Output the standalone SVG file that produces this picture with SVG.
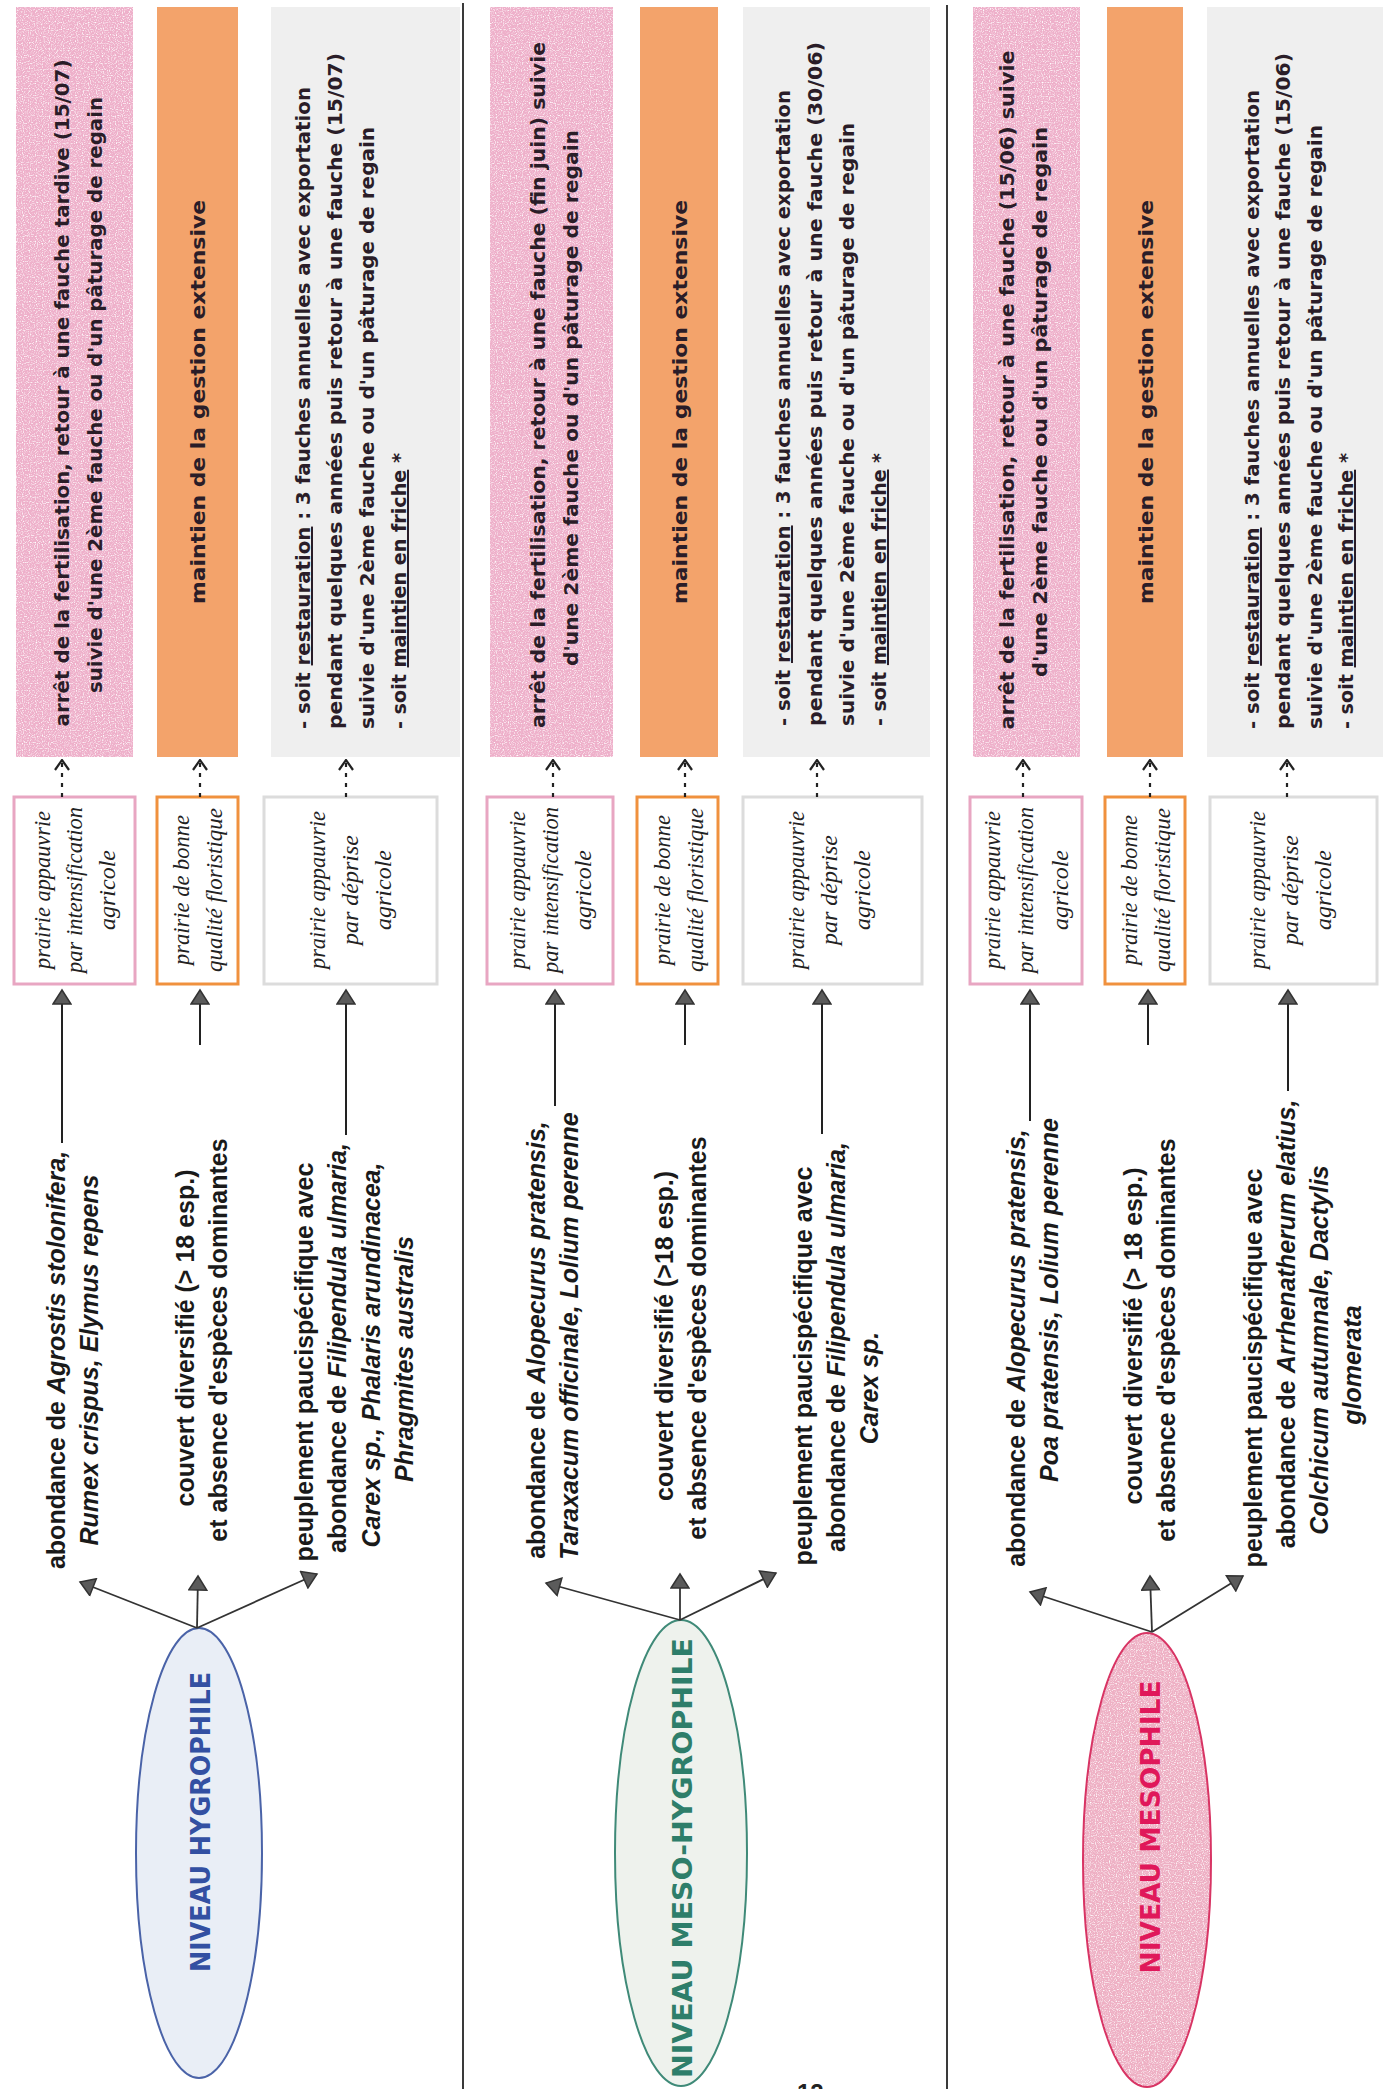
<svg xmlns="http://www.w3.org/2000/svg" width="1383" height="2089" viewBox="0 0 1383 2089">
<style>
.crit{font-family:"Liberation Sans",Arial,sans-serif;font-weight:bold;font-size:25px;fill:#1a1a1a;text-anchor:middle}
.i{font-style:italic}
.u{text-decoration:underline}
.state{font-family:"Liberation Serif","Times New Roman",serif;font-style:italic;font-size:24px;fill:#222;text-anchor:middle}
.act{font-family:"DejaVu Sans Condensed","Liberation Sans Narrow","Liberation Sans",sans-serif;font-weight:bold;font-size:20px;fill:#2a1d28}
.mid{text-anchor:middle}
.lvl{font-family:"DejaVu Sans Condensed","Liberation Sans Narrow","Liberation Sans",sans-serif;font-weight:bold;font-size:26px;text-anchor:middle}
.pinkR{fill:#eeb0ca}
.orR{fill:#f3a36b}
.greyR{fill:#efefef}
.speck{fill:#fff;filter:url(#speck)}
.pinkB{fill:#fff;stroke:#e8a6c2;stroke-width:3}
.orB{fill:#fff;stroke:#f0913e;stroke-width:3}
.greyB{fill:#fff;stroke:#dcdcdc;stroke-width:3}
.sep{stroke:#3a3a3a;stroke-width:2}
.solid{stroke:#222;stroke-width:2;fill:none;marker-end:url(#tri)}
.dash{stroke:#222;stroke-width:2.2;fill:none;stroke-dasharray:4 6;marker-end:url(#chev)}
.thin{stroke:#333;stroke-width:1.8;fill:none;marker-end:url(#tri)}
</style>
<defs>
<filter id="speck" x="0" y="0" width="100%" height="100%">
<feTurbulence type="fractalNoise" baseFrequency="0.85" numOctaves="1" seed="7" result="n"/>
<feColorMatrix in="n" type="matrix" values="0 0 0 0 1  0 0 0 0 1  0 0 0 0 1  0 0 0 -3 1.55" result="a"/>
<feComposite in="a" in2="SourceGraphic" operator="in"/>
</filter>
<marker id="tri" viewBox="0 0 20 20" refX="17" refY="10" markerWidth="20" markerHeight="20" markerUnits="userSpaceOnUse" orient="auto">
<path d="M3,1 L17,10 L3,19 Z" fill="#5b5b5b" stroke="#333" stroke-width="1.5"/>
</marker>
<marker id="chev" viewBox="0 0 12 18" refX="11" refY="9" markerWidth="12" markerHeight="18" markerUnits="userSpaceOnUse" orient="auto">
<path d="M1,2 L11,9 L1,16" fill="none" stroke="#222" stroke-width="2.2"/>
</marker>
</defs>
<rect width="1383" height="2089" fill="#fff"/>

<g id="separators">
<line class="sep" x1="463" y1="3" x2="463" y2="2089"/>
<line class="sep" x1="947" y1="5" x2="947" y2="2089"/>
</g>

<!-- ============ PANEL 1 : HYGROPHILE ============ -->
<g id="p1-action-fertilisation">
<rect class="pinkR" x="16" y="7" width="117" height="750"/>
<rect class="speck" x="16" y="7" width="117" height="750"/>
<text class="act mid" transform="translate(69,393) rotate(-90)" textLength="667" lengthAdjust="spacingAndGlyphs">arrêt de la fertilisation, retour à une fauche tardive (15/07)</text>
<text class="act mid" transform="translate(102,395) rotate(-90)" textLength="596" lengthAdjust="spacingAndGlyphs">suivie d'une 2ème fauche ou d'un pâturage de regain</text>
</g>
<g id="p1-action-maintien">
<rect class="orR" x="157" y="7" width="81" height="750"/>
<text class="act mid" transform="translate(205,402) rotate(-90)" textLength="404" lengthAdjust="spacingAndGlyphs">maintien de la gestion extensive</text>
</g>
<g id="p1-action-restauration">
<rect class="greyR" x="271" y="7" width="189" height="750"/>
<text class="act" transform="translate(310,729) rotate(-90)" textLength="642" lengthAdjust="spacingAndGlyphs">- soit <tspan class="u">restauration</tspan> : 3 fauches annuelles avec exportation</text>
<text class="act" transform="translate(342,729) rotate(-90)" textLength="676" lengthAdjust="spacingAndGlyphs">pendant quelques années puis retour à  une fauche (15/07)</text>
<text class="act" transform="translate(374,729) rotate(-90)" textLength="602" lengthAdjust="spacingAndGlyphs">suivie d'une 2ème fauche ou d'un pâturage de regain</text>
<text class="act" transform="translate(406,729) rotate(-90)" textLength="276" lengthAdjust="spacingAndGlyphs">- soit <tspan class="u">maintien en friche</tspan> *</text>
</g>
<g id="p1-state-intensification">
<rect class="pinkB" x="14" y="797" width="121" height="187"/>
<text class="state" transform="translate(50,890) rotate(-90)" textLength="158" lengthAdjust="spacingAndGlyphs">prairie appauvrie</text>
<text class="state" transform="translate(82,890) rotate(-90)" textLength="166" lengthAdjust="spacingAndGlyphs">par intensification</text>
<text class="state" transform="translate(115,890) rotate(-90)">agricole</text>
</g>
<g id="p1-state-bonne">
<rect class="orB" x="157" y="797" width="81" height="187"/>
<text class="state" transform="translate(189,890) rotate(-90)" textLength="150" lengthAdjust="spacingAndGlyphs">prairie de bonne</text>
<text class="state" transform="translate(222,890) rotate(-90)" textLength="164" lengthAdjust="spacingAndGlyphs">qualité floristique</text>
</g>
<g id="p1-state-deprise">
<rect class="greyB" x="264" y="797" width="173" height="187"/>
<text class="state" transform="translate(325,890) rotate(-90)" textLength="158" lengthAdjust="spacingAndGlyphs">prairie appauvrie</text>
<text class="state" transform="translate(358,890) rotate(-90)">par déprise</text>
<text class="state" transform="translate(391,890) rotate(-90)">agricole</text>
</g>
<g id="p1-crit-1">
<text class="crit" transform="translate(65,1360) rotate(-90)">abondance de <tspan class="i">Agrostis stolonifera,</tspan></text>
<text class="crit" transform="translate(98,1360) rotate(-90)"><tspan class="i">Rumex crispus, Elymus repens</tspan></text>
</g>
<g id="p1-crit-2">
<text class="crit" transform="translate(194,1338) rotate(-90)">couvert diversifié (&gt; 18 esp.)</text>
<text class="crit" transform="translate(227,1340) rotate(-90)">et absence d'espèces dominantes</text>
</g>
<g id="p1-crit-3">
<text class="crit" transform="translate(313,1362) rotate(-90)">peuplement paucispécifique avec</text>
<text class="crit" transform="translate(346,1348) rotate(-90)">abondance de <tspan class="i">Filipendula ulmaria,</tspan></text>
<text class="crit" transform="translate(380,1355) rotate(-90)"><tspan class="i">Carex sp., Phalaris arundinacea,</tspan></text>
<text class="crit" transform="translate(413,1359) rotate(-90)"><tspan class="i">Phragmites australis</tspan></text>
</g>
<g id="p1-level">
<ellipse cx="199" cy="1853" rx="63" ry="225" fill="#e9eef6" stroke="#4a63a8" stroke-width="2"/>
<text class="lvl" fill="#3350a2" transform="translate(210,1822) rotate(-90)" textLength="300" lengthAdjust="spacingAndGlyphs">NIVEAU HYGROPHILE</text>
</g>

<!-- ============ PANEL 2 : MESO-HYGROPHILE ============ -->
<g id="p2-action-fertilisation">
<rect class="pinkR" x="490" y="7" width="123" height="750"/>
<rect class="speck" x="490" y="7" width="123" height="750"/>
<text class="act mid" transform="translate(545,385) rotate(-90)" textLength="686" lengthAdjust="spacingAndGlyphs">arrêt de la fertilisation, retour à une fauche (fin juin) suivie</text>
<text class="act mid" transform="translate(578,398) rotate(-90)" textLength="536" lengthAdjust="spacingAndGlyphs">d'une 2ème fauche ou d'un pâturage de regain</text>
</g>
<g id="p2-action-maintien">
<rect class="orR" x="640" y="7" width="78" height="750"/>
<text class="act mid" transform="translate(687,402) rotate(-90)" textLength="404" lengthAdjust="spacingAndGlyphs">maintien de la gestion extensive</text>
</g>
<g id="p2-action-restauration">
<rect class="greyR" x="743" y="7" width="187" height="750"/>
<text class="act" transform="translate(790,726) rotate(-90)" textLength="636" lengthAdjust="spacingAndGlyphs">- soit <tspan class="u">restauration</tspan> : 3 fauches annuelles avec exportation</text>
<text class="act" transform="translate(822,726) rotate(-90)" textLength="684" lengthAdjust="spacingAndGlyphs">pendant quelques années puis retour à une fauche (30/06)</text>
<text class="act" transform="translate(854,726) rotate(-90)" textLength="603" lengthAdjust="spacingAndGlyphs">suivie d'une 2ème fauche ou d'un pâturage de regain</text>
<text class="act" transform="translate(886,726) rotate(-90)" textLength="273" lengthAdjust="spacingAndGlyphs">- soit <tspan class="u">maintien en friche</tspan> *</text>
</g>
<g id="p2-state-intensification">
<rect class="pinkB" x="487" y="797" width="126" height="187"/>
<text class="state" transform="translate(525,890) rotate(-90)" textLength="158" lengthAdjust="spacingAndGlyphs">prairie appauvrie</text>
<text class="state" transform="translate(558,890) rotate(-90)" textLength="166" lengthAdjust="spacingAndGlyphs">par intensification</text>
<text class="state" transform="translate(591,890) rotate(-90)">agricole</text>
</g>
<g id="p2-state-bonne">
<rect class="orB" x="637" y="797" width="81" height="187"/>
<text class="state" transform="translate(670,890) rotate(-90)" textLength="150" lengthAdjust="spacingAndGlyphs">prairie de bonne</text>
<text class="state" transform="translate(703,890) rotate(-90)" textLength="164" lengthAdjust="spacingAndGlyphs">qualité floristique</text>
</g>
<g id="p2-state-deprise">
<rect class="greyB" x="743" y="797" width="179" height="187"/>
<text class="state" transform="translate(804,890) rotate(-90)" textLength="158" lengthAdjust="spacingAndGlyphs">prairie appauvrie</text>
<text class="state" transform="translate(837,890) rotate(-90)">par déprise</text>
<text class="state" transform="translate(870,890) rotate(-90)">agricole</text>
</g>
<g id="p2-crit-1">
<text class="crit" transform="translate(545,1340) rotate(-90)">abondance de <tspan class="i">Alopecurus pratensis,</tspan></text>
<text class="crit" transform="translate(578,1336) rotate(-90)"><tspan class="i">Taraxacum officinale, Lolium perenne</tspan></text>
</g>
<g id="p2-crit-2">
<text class="crit" transform="translate(673,1336) rotate(-90)">couvert diversifié (&gt;18 esp.)</text>
<text class="crit" transform="translate(706,1338) rotate(-90)">et absence d'espèces dominantes</text>
</g>
<g id="p2-crit-3">
<text class="crit" transform="translate(812,1366) rotate(-90)">peuplement paucispécifique avec</text>
<text class="crit" transform="translate(845,1347) rotate(-90)">abondance de <tspan class="i">Filipendula ulmaria,</tspan></text>
<text class="crit" transform="translate(878,1388) rotate(-90)"><tspan class="i">Carex sp.</tspan></text>
</g>
<g id="p2-level">
<ellipse cx="681" cy="1853" rx="66" ry="233" fill="#eef2ed" stroke="#3f8a78" stroke-width="2"/>
<text class="lvl" fill="#2e7e6a" transform="translate(692,1858) rotate(-90)" textLength="440" lengthAdjust="spacingAndGlyphs">NIVEAU MESO-HYGROPHILE</text>
</g>

<!-- ============ PANEL 3 : MESOPHILE ============ -->
<g id="p3-action-fertilisation">
<rect class="pinkR" x="973" y="7" width="107" height="750"/>
<rect class="speck" x="973" y="7" width="107" height="750"/>
<text class="act mid" transform="translate(1014,390) rotate(-90)" textLength="679" lengthAdjust="spacingAndGlyphs">arrêt de la fertilisation, retour à une fauche (15/06) suivie</text>
<text class="act mid" transform="translate(1047,402) rotate(-90)" textLength="550" lengthAdjust="spacingAndGlyphs">d'une 2ème fauche ou d'un pâturage de regain</text>
</g>
<g id="p3-action-maintien">
<rect class="orR" x="1107" y="7" width="76" height="750"/>
<text class="act mid" transform="translate(1153,402) rotate(-90)" textLength="404" lengthAdjust="spacingAndGlyphs">maintien de la gestion extensive</text>
</g>
<g id="p3-action-restauration">
<rect class="greyR" x="1207" y="7" width="176" height="750"/>
<text class="act" transform="translate(1259,729) rotate(-90)" textLength="639" lengthAdjust="spacingAndGlyphs">- soit <tspan class="u">restauration</tspan> : 3 fauches annuelles avec exportation</text>
<text class="act" transform="translate(1290,729) rotate(-90)" textLength="676" lengthAdjust="spacingAndGlyphs">pendant quelques années puis retour à une fauche  (15/06)</text>
<text class="act" transform="translate(1322,729) rotate(-90)" textLength="604" lengthAdjust="spacingAndGlyphs">suivie d'une 2ème fauche ou d'un pâturage de regain</text>
<text class="act" transform="translate(1353,729) rotate(-90)" textLength="276" lengthAdjust="spacingAndGlyphs">- soit <tspan class="u">maintien en friche</tspan> *</text>
</g>
<g id="p3-state-intensification">
<rect class="pinkB" x="970" y="797" width="112" height="187"/>
<text class="state" transform="translate(1000,890) rotate(-90)" textLength="158" lengthAdjust="spacingAndGlyphs">prairie appauvrie</text>
<text class="state" transform="translate(1033,890) rotate(-90)" textLength="166" lengthAdjust="spacingAndGlyphs">par intensification</text>
<text class="state" transform="translate(1068,890) rotate(-90)">agricole</text>
</g>
<g id="p3-state-bonne">
<rect class="orB" x="1105" y="797" width="80" height="187"/>
<text class="state" transform="translate(1137,890) rotate(-90)" textLength="150" lengthAdjust="spacingAndGlyphs">prairie de bonne</text>
<text class="state" transform="translate(1170,890) rotate(-90)" textLength="164" lengthAdjust="spacingAndGlyphs">qualité floristique</text>
</g>
<g id="p3-state-deprise">
<rect class="greyB" x="1210" y="797" width="167" height="187"/>
<text class="state" transform="translate(1265,890) rotate(-90)" textLength="158" lengthAdjust="spacingAndGlyphs">prairie appauvrie</text>
<text class="state" transform="translate(1298,890) rotate(-90)">par déprise</text>
<text class="state" transform="translate(1331,890) rotate(-90)">agricole</text>
</g>
<g id="p3-crit-1">
<text class="crit" transform="translate(1025,1348) rotate(-90)">abondance de <tspan class="i">Alopecurus pratensis,</tspan></text>
<text class="crit" transform="translate(1058,1300) rotate(-90)"><tspan class="i">Poa pratensis, Lolium perenne</tspan></text>
</g>
<g id="p3-crit-2">
<text class="crit" transform="translate(1142,1336) rotate(-90)">couvert diversifié (&gt; 18 esp.)</text>
<text class="crit" transform="translate(1175,1340) rotate(-90)">et absence d'espèces dominantes</text>
</g>
<g id="p3-crit-3">
<text class="crit" transform="translate(1262,1368) rotate(-90)">peuplement paucispécifique avec</text>
<text class="crit" transform="translate(1295,1324) rotate(-90)">abondance de <tspan class="i">Arrhenatherum elatius,</tspan></text>
<text class="crit" transform="translate(1328,1350) rotate(-90)"><tspan class="i">Colchicum autumnale, Dactylis</tspan></text>
<text class="crit" transform="translate(1361,1365) rotate(-90)"><tspan class="i">glomerata</tspan></text>
</g>
<g id="p3-level">
<ellipse cx="1147" cy="1860" rx="64" ry="227" fill="#eeb0c4" stroke="#d83464" stroke-width="2"/>
<ellipse class="speck" cx="1147" cy="1860" rx="63" ry="226"/>
<text class="lvl" fill="#e0185a" transform="translate(1160,1827) rotate(-90)" textLength="293" lengthAdjust="spacingAndGlyphs">NIVEAU MESOPHILE</text>
</g>

<g id="connectors">
<!-- panel 1 -->
<line class="thin" x1="197" y1="1628" x2="80" y2="1582"/>
<line class="thin" x1="197" y1="1628" x2="198" y2="1576"/>
<line class="thin" x1="197" y1="1628" x2="317" y2="1574"/>
<line class="solid" x1="62" y1="1143" x2="62" y2="990"/>
<line class="solid" x1="200" y1="1045" x2="200" y2="990"/>
<line class="solid" x1="346" y1="1135" x2="346" y2="990"/>
<line class="dash" x1="62" y1="797" x2="62" y2="760"/>
<line class="dash" x1="200" y1="797" x2="200" y2="760"/>
<line class="dash" x1="346" y1="797" x2="346" y2="760"/>
<!-- panel 2 -->
<line class="thin" x1="680" y1="1620" x2="546" y2="1583"/>
<line class="thin" x1="680" y1="1620" x2="680" y2="1574"/>
<line class="thin" x1="680" y1="1620" x2="776" y2="1573"/>
<line class="solid" x1="555" y1="1106" x2="555" y2="990"/>
<line class="solid" x1="685" y1="1045" x2="685" y2="990"/>
<line class="solid" x1="822" y1="1134" x2="822" y2="990"/>
<line class="dash" x1="553" y1="797" x2="553" y2="760"/>
<line class="dash" x1="685" y1="797" x2="685" y2="760"/>
<line class="dash" x1="817" y1="797" x2="817" y2="760"/>
<!-- panel 3 -->
<line class="thin" x1="1152" y1="1632" x2="1030" y2="1592"/>
<line class="thin" x1="1152" y1="1632" x2="1150" y2="1576"/>
<line class="thin" x1="1152" y1="1632" x2="1243" y2="1576"/>
<line class="solid" x1="1030" y1="1121" x2="1030" y2="990"/>
<line class="solid" x1="1148" y1="1045" x2="1148" y2="990"/>
<line class="solid" x1="1288" y1="1091" x2="1288" y2="990"/>
<line class="dash" x1="1023" y1="797" x2="1023" y2="760"/>
<line class="dash" x1="1150" y1="797" x2="1150" y2="760"/>
<line class="dash" x1="1287" y1="797" x2="1287" y2="760"/>
</g>

<text x="797" y="2101" font-family="Liberation Sans, Arial, sans-serif" font-weight="bold" font-size="24" fill="#222">12</text>
</svg>
